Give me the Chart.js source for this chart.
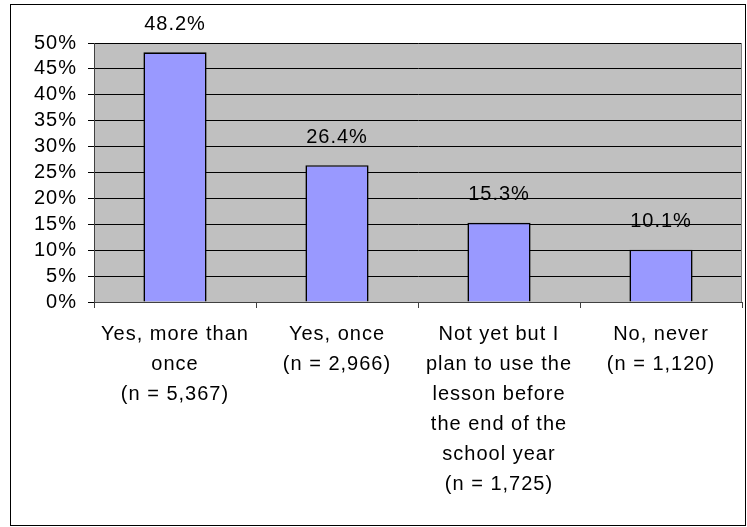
<!doctype html>
<html lang="en">
<head>
    <meta charset="utf-8">
    <title>Lesson use</title>
    <style>
        * { margin: 0; padding: 0; }
        body { background: white; }
    </style>
</head>
<body>
    <canvas id="myChart" width="747" height="527"></canvas>

    <script src="https://cdn.jsdelivr.net/npm/chart.js"></script>
    <script>
        const categories = [
            ['Yes, more than', 'once', '(n = 5,367)'],
            ['Yes, once', '(n = 2,966)'],
            ['Not yet but I', 'plan to use the', 'lesson before', 'the end of the', 'school year', '(n = 1,725)'],
            ['No, never', '(n = 1,120)']
        ]
        const percents = [48.2, 26.4, 15.3, 10.1]
        const yTicks = [0, 5, 10, 15, 20, 25, 30, 35, 40, 45, 50]

        const FONT = '"Liberation Sans", Arial, sans-serif'
        const SPACING = '1px'

        // white frame + gray plot area
        const backdrop = {
            id: 'backdrop',
            beforeUpdate(chart) {
                chart.ctx.letterSpacing = SPACING
            },
            beforeDraw(chart) {
                const ctx = chart.ctx
                const a = chart.chartArea
                ctx.letterSpacing = SPACING
                ctx.save()
                ctx.fillStyle = '#fff'
                ctx.fillRect(0, 0, chart.width, chart.height)
                ctx.strokeStyle = '#000'
                ctx.lineWidth = 1
                ctx.strokeRect(10.5, 4.5, 735, 521)
                ctx.fillStyle = '#c0c0c0'
                ctx.fillRect(a.left, a.top, a.right - a.left, a.bottom - a.top)
                ctx.restore()
            },
            afterDatasetsDraw(chart) {
                const ctx = chart.ctx
                const a = chart.chartArea
                ctx.save()
                ctx.strokeStyle = '#808080'
                ctx.lineWidth = 1
                ctx.beginPath()
                ctx.moveTo(Math.round(a.right) - 0.5, a.top)
                ctx.lineTo(Math.round(a.right) - 0.5, a.bottom)
                ctx.stroke()
                // value labels above bars
                ctx.fillStyle = '#000'
                ctx.font = '20px ' + FONT
                ctx.textAlign = 'center'
                ctx.textBaseline = 'middle'
                chart.getDatasetMeta(0).data.forEach((bar, i) => {
                    ctx.fillText(percents[i].toFixed(1) + '%', bar.x, bar.y - 28)
                })
                ctx.restore()
            }
        }

        const config = {
            type: 'bar',
            data: {
                labels: categories,
                datasets: [{
                    data: percents,
                    backgroundColor: '#9999ff',
                    borderColor: '#000',
                    borderWidth: 1.6,
                    barPercentage: 0.39,
                    categoryPercentage: 1
                }]
            },
            options: {
                responsive: false,
                animation: false,
                layout: {
                    padding: { left: 10, top: 43, right: 5, bottom: 0 }
                },
                plugins: {
                    legend: { display: false },
                    tooltip: { enabled: false }
                },
                scales: {
                    x: {
                        offset: true,
                        border: { color: '#404040', width: 1 },
                        grid: {
                            offset: true,
                            drawOnChartArea: false,
                            tickLength: 6,
                            color: '#404040'
                        },
                        ticks: {
                            autoSkip: false,
                            maxRotation: 0,
                            padding: 11,
                            color: '#000',
                            font: { family: FONT, size: 20, lineHeight: 1.5 }
                        },
                        afterFit(scale) { scale.height = 225 }
                    },
                    y: {
                        min: 0,
                        max: 50,
                        afterBuildTicks(scale) {
                            scale.ticks = yTicks.map(v => ({ value: v }))
                        },
                        border: { color: '#404040', width: 1 },
                        grid: {
                            color: '#000',
                            tickLength: 6,
                            lineWidth: 1
                        },
                        ticks: {
                            autoSkip: false,
                            padding: 11,
                            color: '#000',
                            font: { family: FONT, size: 20 },
                            callback: v => v + '%'
                        },
                        afterFit(scale) { scale.width = 84 }
                    }
                }
            },
            plugins: [backdrop]
        }

        const myChart = new Chart(document.getElementById('myChart'), config)
    </script>
</body>
</html>
